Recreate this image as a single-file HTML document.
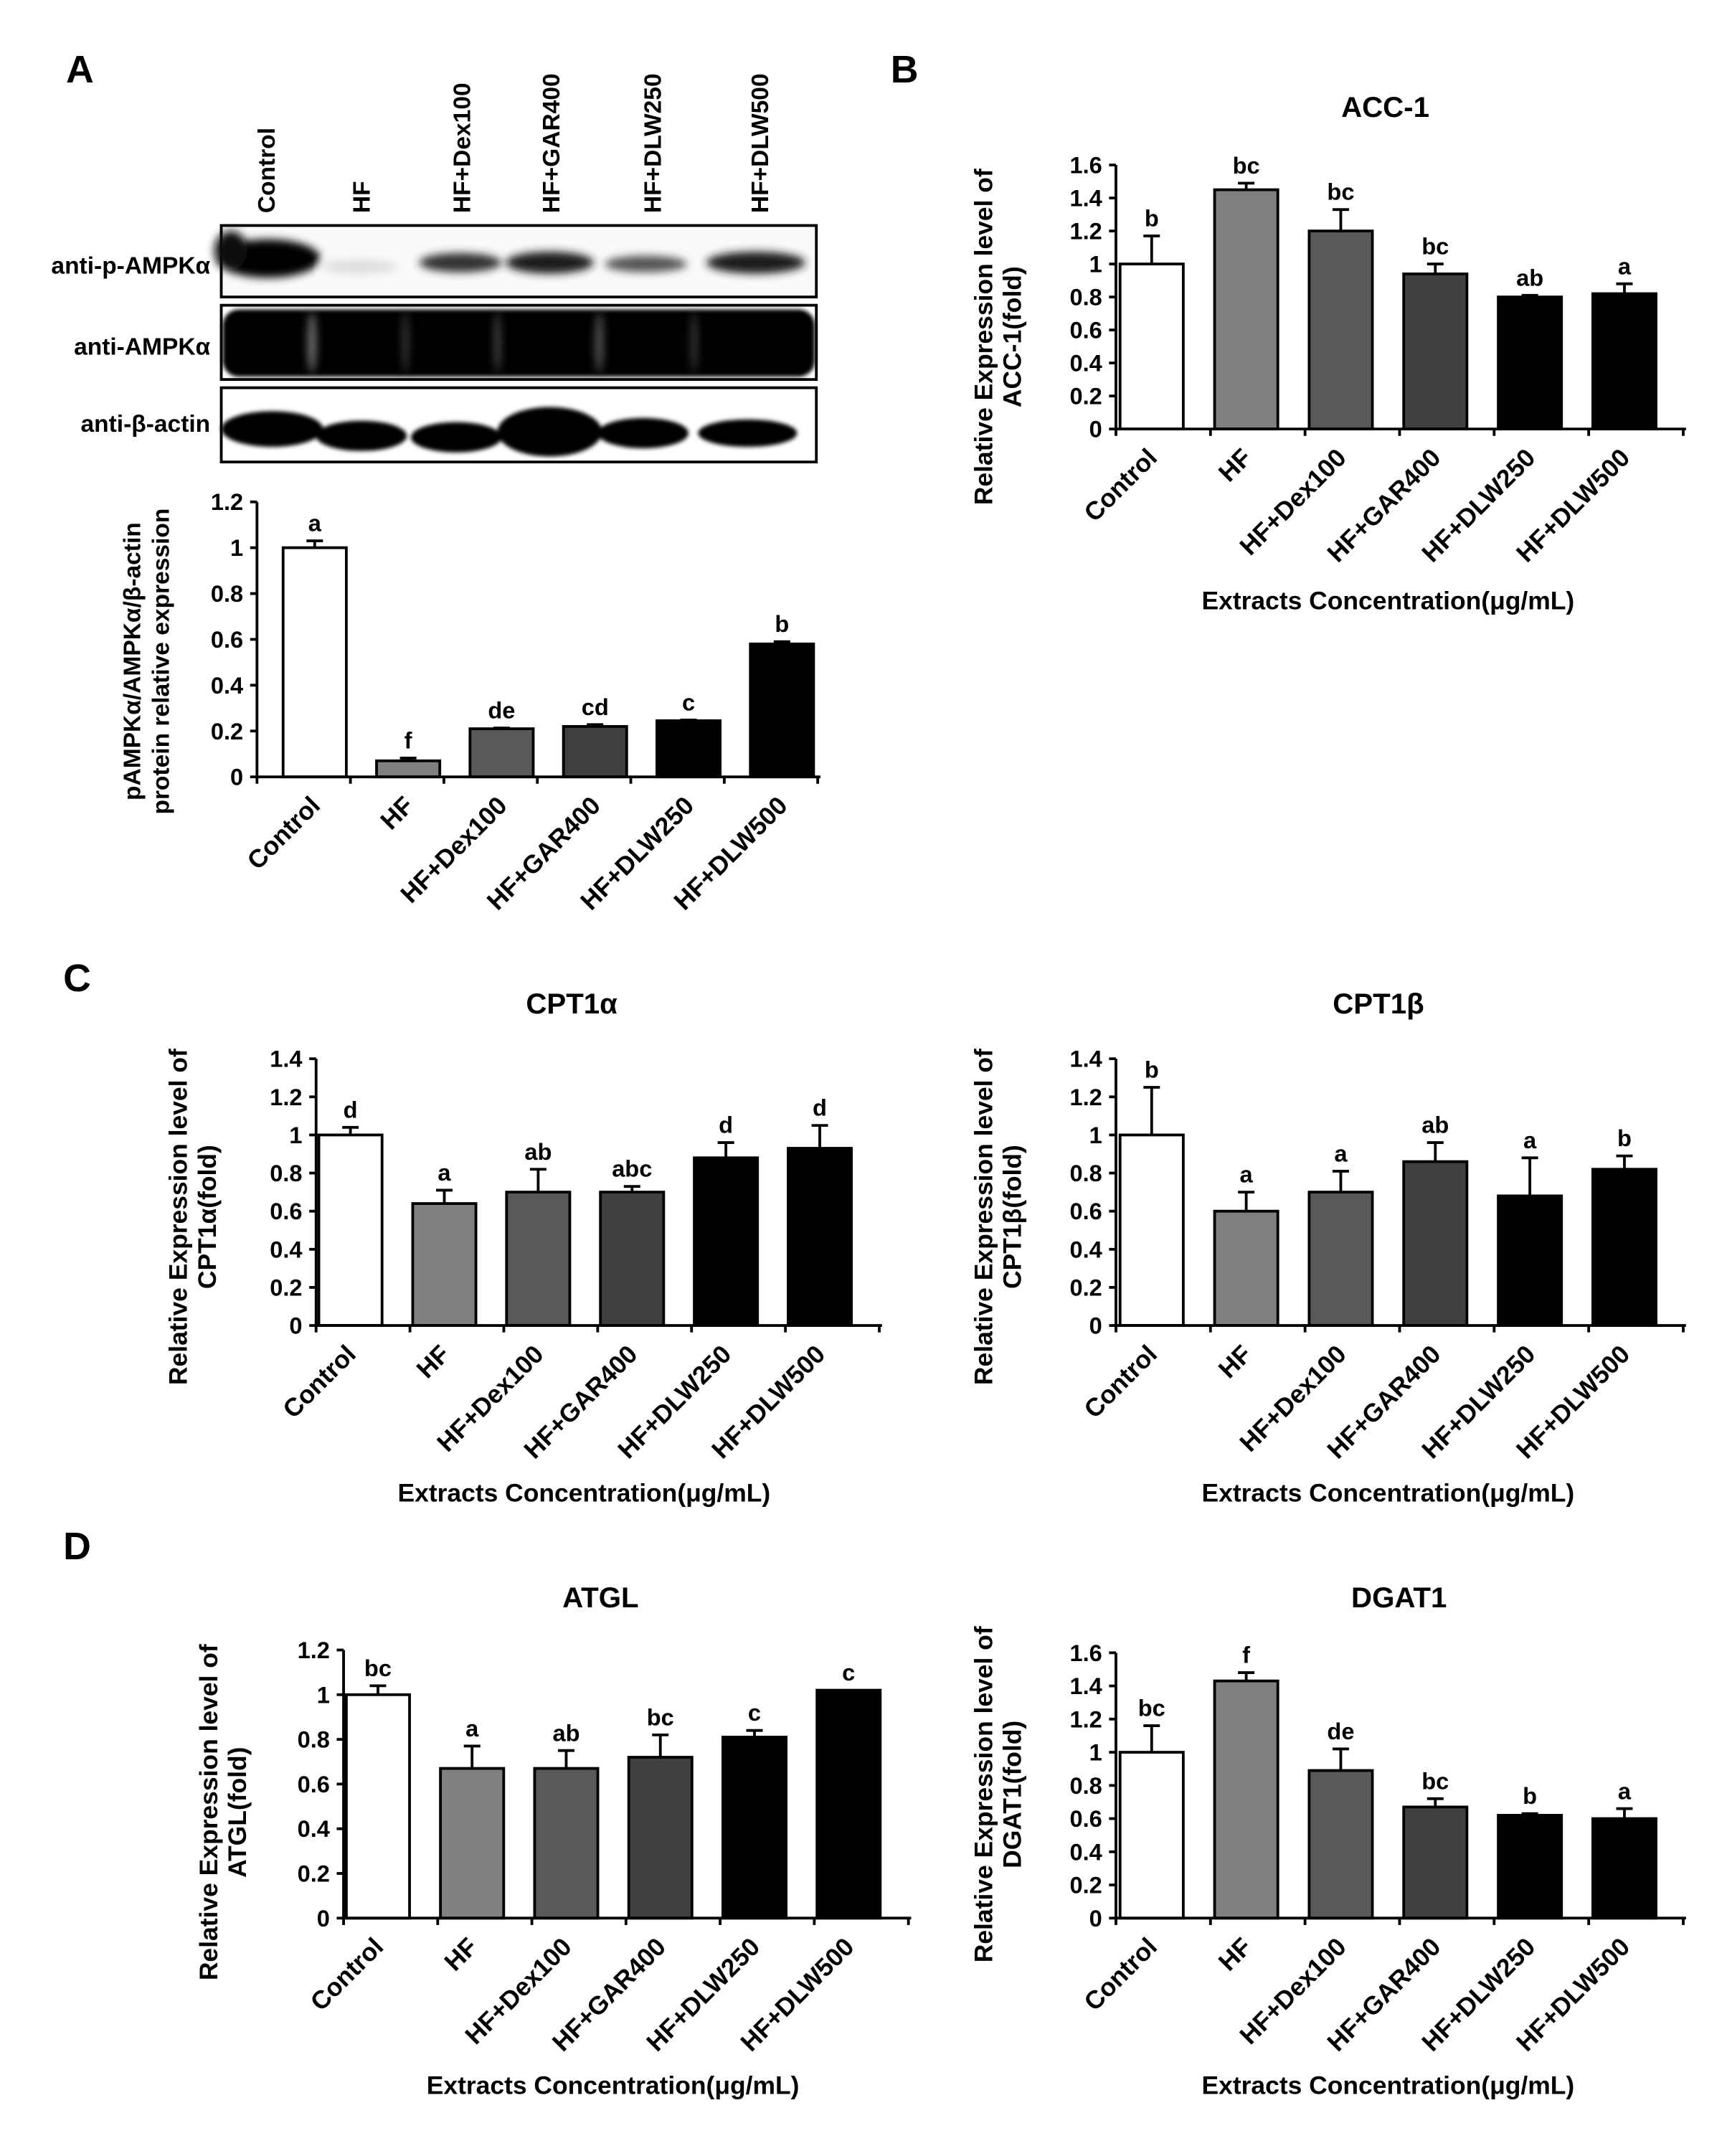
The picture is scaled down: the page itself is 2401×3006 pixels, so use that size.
<!DOCTYPE html>
<html><head><meta charset="utf-8">
<style>
html,body{margin:0;padding:0;background:#fff;}
svg{display:block;}
text{font-family:"Liberation Sans",Arial,sans-serif;font-weight:bold;fill:#000;}
</style></head>
<body>
<svg id="s" width="2401" height="3006" viewBox="0 0 1253 1568" preserveAspectRatio="none" xmlns="http://www.w3.org/2000/svg">
<defs>
<filter id="bl" x="-20%" y="-50%" width="140%" height="200%"><feGaussianBlur stdDeviation="3"/></filter>
<filter id="bl2" x="-20%" y="-50%" width="140%" height="200%"><feGaussianBlur stdDeviation="1.5"/></filter>
</defs>
<rect width="1253" height="1568" fill="#fff"/>
<text x="48" y="60" font-size="28">A</text>
<text x="648" y="60" font-size="28">B</text>
<text x="46" y="721" font-size="28">C</text>
<text x="46" y="1134" font-size="28">D</text>

<g font-size="17.5">
<text transform="translate(200,155) rotate(-90)">Control</text>
<text transform="translate(269,155) rotate(-90)">HF</text>
<text transform="translate(342,155) rotate(-90)">HF+Dex100</text>
<text transform="translate(407,155) rotate(-90)">HF+GAR400</text>
<text transform="translate(481,155) rotate(-90)">HF+DLW250</text>
<text transform="translate(559,155) rotate(-90)">HF+DLW500</text>
</g>
<g font-size="17.5" text-anchor="end">
<text x="153" y="199">anti-p-AMPKα</text>
<text x="153" y="258">anti-AMPKα</text>
<text x="153" y="314">anti-β-actin</text>
</g>
<g>
<rect x="161" y="164" width="433" height="52" fill="#fafafa" stroke="#000" stroke-width="2"/>
<g filter="url(#bl)">
<ellipse cx="195" cy="188" rx="38" ry="14" fill="#000"/>
<ellipse cx="168" cy="182" rx="12" ry="14" fill="#111"/>
<ellipse cx="262" cy="194" rx="28" ry="5" fill="#ddd"/>
<ellipse cx="335" cy="191" rx="30" ry="7" fill="#333"/>
<ellipse cx="400" cy="191" rx="32" ry="8" fill="#1a1a1a"/>
<ellipse cx="470" cy="192" rx="30" ry="6" fill="#555"/>
<ellipse cx="550" cy="191" rx="36" ry="8" fill="#1a1a1a"/>
</g>
<rect x="161" y="222" width="433" height="54" fill="#fff" stroke="#000" stroke-width="2"/>
<g filter="url(#bl2)">
<rect x="162" y="225" width="431" height="49" rx="12" fill="#050505"/>
</g>
<g filter="url(#bl)">
<ellipse cx="227" cy="249" rx="3" ry="22" fill="#777"/>
<ellipse cx="295" cy="249" rx="2" ry="22" fill="#444"/>
<ellipse cx="362" cy="249" rx="2" ry="22" fill="#555"/>
<ellipse cx="436" cy="249" rx="3" ry="22" fill="#555"/>
<ellipse cx="505" cy="249" rx="2" ry="22" fill="#444"/>
</g>
<rect x="161" y="282" width="433" height="54" fill="#fff" stroke="#000" stroke-width="2"/>
<g filter="url(#bl2)">
<ellipse cx="198" cy="312" rx="37" ry="13" fill="#000"/>
<ellipse cx="263" cy="317" rx="33" ry="11" fill="#000"/>
<ellipse cx="332" cy="318" rx="33" ry="11" fill="#000"/>
<ellipse cx="400" cy="314" rx="38" ry="18" fill="#000"/>
<ellipse cx="468" cy="315" rx="33" ry="11" fill="#000"/>
<ellipse cx="544" cy="315" rx="36" ry="10" fill="#000"/>
</g>
</g>
<g id="charts"></g>
</svg>
<script>
var NS="http://www.w3.org/2000/svg";
var G=document.getElementById("charts");
function el(t,a,txt){var e=document.createElementNS(NS,t);for(var k in a)e.setAttribute(k,a[k]);if(txt!==undefined)e.textContent=txt;G.appendChild(e);return e;}
var cats=["Control","HF","HF+Dex100","HF+GAR400","HF+DLW250","HF+DLW500"];
var fills=["#fff","#808080","#595959","#404040","#000","#000"];
function chart(o){
  var x0=o.x0,y0=o.y0,yt=o.yt,max=o.max,sp=o.sp,bw=46;
  var sc=(y0-yt)/max;
  for(var i=0;i<6;i++){
    var bx=o.bx+i*sp,h=o.v[i]*sc,top=y0-h,et=top-o.e[i]*sc,cx=bx+bw/2;
    el("rect",{x:bx,y:top,width:bw,height:h,fill:fills[i],stroke:"#000","stroke-width":2});
    if(o.e[i]>0){el("line",{x1:cx,y1:top,x2:cx,y2:et,stroke:"#000","stroke-width":2});
    el("line",{x1:cx-6,y1:et,x2:cx+6,y2:et,stroke:"#000","stroke-width":2});}
    el("text",{x:cx,y:et-7,"font-size":17,"text-anchor":"middle"},o.l[i]);
    el("text",{transform:"translate("+(cx+5)+","+(y0+22)+") rotate(-45)","font-size":18.5,"text-anchor":"end"},cats[i]);
  }
  el("line",{x1:x0,y1:yt,x2:x0,y2:y0,stroke:"#000","stroke-width":2});
  el("line",{x1:x0,y1:y0,x2:x0+6*sp+2,y2:y0,stroke:"#000","stroke-width":2});
  for(var i=0;i<=6;i++){var tx=x0+i*sp;el("line",{x1:tx,y1:y0,x2:tx,y2:y0+5,stroke:"#000","stroke-width":2});}
  var n=Math.round(max/o.step);
  for(var j=0;j<=n;j++){var v=j*o.step,ty=y0-v*sc;
    el("line",{x1:x0-5,y1:ty,x2:x0,y2:ty,stroke:"#000","stroke-width":2});
    var s=(Math.round(v*10)/10).toString();
    el("text",{x:x0-10,y:ty+6,"font-size":17,"text-anchor":"end"},s);}
  el("text",{transform:"translate("+o.yl1+","+o.ylc+") rotate(-90)","font-size":o.ylfs||18.5,"text-anchor":"middle"},o.ylab1);
  el("text",{transform:"translate("+o.yl2+","+o.ylc+") rotate(-90)","font-size":o.ylfs||18.5,"text-anchor":"middle"},o.ylab2);
  if(o.title)el("text",{x:o.tx,y:o.ty,"font-size":21,"text-anchor":"middle"},o.title);
  if(o.xt)el("text",{x:o.xtx,y:o.xty,"font-size":18.5,"text-anchor":"middle"},"Extracts Concentration(μg/mL)");
}
chart({x0:187,y0:565,yt:365,max:1.2,step:0.2,sp:68,bx:206,v:[1,0.07,0.21,0.22,0.245,0.58],e:[0.03,0.012,0.003,0.008,0.003,0.01],l:["a","f","de","cd","c","b"],
 yl1:102,yl2:123,ylc:481,ylab1:"pAMPKα/AMPKα/β-actin",ylab2:"protein relative expression",ylfs:17.5});
chart({x0:812,y0:312,yt:120,max:1.6,step:0.2,sp:68.8,bx:815,v:[1,1.45,1.2,0.94,0.8,0.82],e:[0.17,0.04,0.13,0.06,0.01,0.06],l:["b","bc","bc","bc","ab","a"],
 yl1:722,yl2:743,ylc:245,ylab1:"Relative Expression level of",ylab2:"ACC-1(fold)",title:"ACC-1",tx:1008,ty:85,xt:1,xtx:1010,xty:443});
chart({x0:230,y0:964,yt:770,max:1.4,step:0.2,sp:68.3,bx:232,v:[1,0.64,0.7,0.7,0.88,0.93],e:[0.04,0.07,0.12,0.03,0.08,0.12],l:["d","a","ab","abc","d","d"],
 yl1:136,yl2:157,ylc:885,ylab1:"Relative Expression level of",ylab2:"CPT1α(fold)",title:"CPT1α",tx:416,ty:737,xt:1,xtx:425,xty:1092});
chart({x0:812,y0:964,yt:770,max:1.4,step:0.2,sp:68.8,bx:815,v:[1,0.6,0.7,0.86,0.68,0.82],e:[0.25,0.1,0.11,0.1,0.2,0.07],l:["b","a","a","ab","a","b"],
 yl1:722,yl2:743,ylc:885,ylab1:"Relative Expression level of",ylab2:"CPT1β(fold)",title:"CPT1β",tx:1003,ty:737,xt:1,xtx:1010,xty:1092});
chart({x0:250,y0:1395,yt:1200,max:1.2,step:0.2,sp:68.5,bx:252,v:[1,0.67,0.67,0.72,0.81,1.02],e:[0.04,0.1,0.08,0.1,0.03,0],l:["bc","a","ab","bc","c","c"],
 yl1:158,yl2:179,ylc:1318,ylab1:"Relative Expression level of",ylab2:"ATGL(fold)",title:"ATGL",tx:437,ty:1169,xt:1,xtx:446,xty:1523});
chart({x0:812,y0:1395,yt:1202,max:1.6,step:0.2,sp:68.8,bx:815,v:[1,1.43,0.89,0.67,0.62,0.6],e:[0.16,0.05,0.13,0.05,0.01,0.06],l:["bc","f","de","bc","b","a"],
 yl1:722,yl2:743,ylc:1305,ylab1:"Relative Expression level of",ylab2:"DGAT1(fold)",title:"DGAT1",tx:1018,ty:1169,xt:1,xtx:1010,xty:1523});
</script>
</body></html>
